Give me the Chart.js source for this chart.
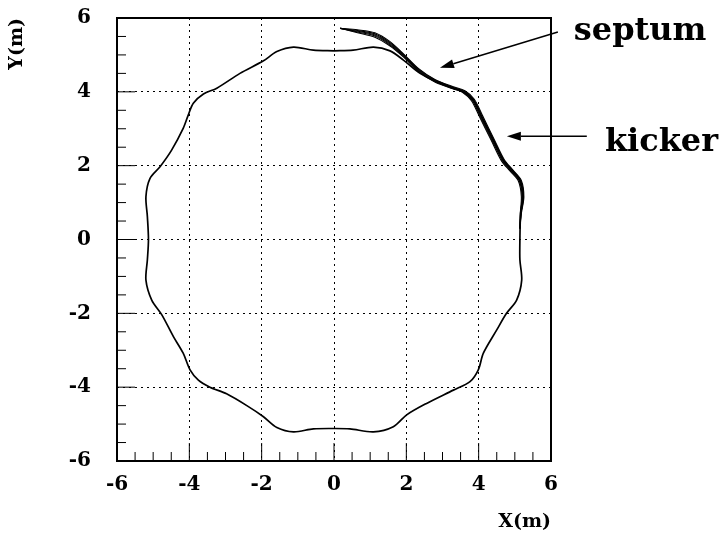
<!DOCTYPE html>
<html>
<head>
<meta charset="utf-8">
<script src="https://cdn.jsdelivr.net/npm/chart.js@4.4.0/dist/chart.umd.min.js"></script>
<style>
body { margin: 0; background: #fff; }
</style>
</head>
<body>
<canvas id="orbit" width="725" height="536"></canvas>
<script>
/* closed orbit (metres), counter-clockwise from the top */
var orbitX = [0.00, -0.57, -1.12, -1.58, -1.95, -2.60, -3.24, -3.61, -3.89, -4.03, -4.17, -4.49, -4.81, -5.09, -5.20, -5.16, -5.13,
  -5.16, -5.20, -5.04, -4.76, -4.44, -4.17, -3.98, -3.75, -3.43, -2.97, -2.41, -1.95, -1.58, -1.12, -0.57, 0.00,
  0.44, 1.09, 1.64, 2.01, 2.56, 3.30, 3.76, 3.99, 4.13, 4.50, 4.77, 5.05, 5.19, 5.14, 5.14,
  5.16, 5.22, 5.14, 4.91, 4.68, 4.40, 4.08, 3.85, 3.57, 3.02, 2.38, 1.92, 1.55, 1.09, 0.53, 0.00];
var orbitY = [5.11, 5.13, 5.21, 5.09, 4.84, 4.50, 4.10, 3.94, 3.69, 3.37, 3.01, 2.42, 1.97, 1.65, 1.16, 0.62, 0.00,
  -0.55, -1.10, -1.64, -2.04, -2.63, -3.08, -3.53, -3.81, -4.00, -4.18, -4.50, -4.80, -5.09, -5.21, -5.13, -5.12,
  -5.13, -5.21, -5.07, -4.75, -4.44, -4.08, -3.85, -3.53, -3.08, -2.45, -2.00, -1.64, -1.10, -0.55, 0.00,
  0.71, 1.16, 1.61, 1.88, 2.15, 2.70, 3.33, 3.78, 4.00, 4.19, 4.50, 4.86, 5.11, 5.21, 5.13, 5.11];

/* injected turns coming out of the septum */
var turn1X = [0.17, 0.65, 1.13, 1.55, 1.90, 2.35, 2.80, 3.30, 3.62, 3.88, 4.11, 4.43, 4.71, 4.95, 5.18, 5.25, 5.18, 5.14];
var turn1Y = [5.72, 5.68, 5.60, 5.36, 5.05, 4.62, 4.33, 4.14, 4.03, 3.80, 3.35, 2.71, 2.16, 1.88, 1.60, 1.16, 0.70, 0.30];
var turn2X = [0.17, 0.65, 1.13, 1.55, 1.90, 2.35, 2.80, 3.30, 3.60, 3.86, 4.09, 4.41, 4.69, 4.93, 5.16, 5.24, 5.17, 5.14];
var turn2Y = [5.72, 5.66, 5.57, 5.33, 5.03, 4.60, 4.32, 4.12, 4.02, 3.79, 3.34, 2.71, 2.16, 1.88, 1.60, 1.16, 0.70, 0.30];
var turn3X = [0.17, 0.65, 1.13, 1.55, 1.90, 2.35, 2.80, 3.30, 3.58, 3.84, 4.07, 4.39, 4.67, 4.91, 5.14, 5.22, 5.17, 5.14];
var turn3Y = [5.72, 5.64, 5.54, 5.30, 5.01, 4.58, 4.30, 4.11, 4.01, 3.78, 3.33, 2.70, 2.15, 1.87, 1.60, 1.16, 0.70, 0.30];
var turn4X = [0.17, 0.65, 1.13, 1.55, 1.90, 2.35, 2.80, 3.30, 3.56, 3.82, 4.05, 4.37, 4.65, 4.89, 5.12, 5.20, 5.16, 5.14];
var turn4Y = [5.72, 5.62, 5.51, 5.27, 4.99, 4.56, 4.28, 4.10, 4.00, 3.77, 3.32, 2.69, 2.14, 1.86, 1.59, 1.16, 0.70, 0.30];
var turn5X = [0.17, 0.65, 1.13, 1.55, 1.90, 2.35, 2.80, 3.30, 3.55, 3.80, 4.03, 4.35, 4.63, 4.87, 5.10, 5.18, 5.15, 5.14];
var turn5Y = [5.72, 5.60, 5.48, 5.24, 4.96, 4.54, 4.26, 4.08, 3.99, 3.76, 3.31, 2.68, 2.13, 1.85, 1.58, 1.16, 0.70, 0.30];

var tickValues = [-6, -4, -2, 0, 2, 4, 6];

/* labels with arrows, in metres */
var septumArrow = { tail: [6.19, 5.62], tip: [2.93, 4.65], label: 'septum', text: [6.63, 5.40] };
var kickerArrow = { tail: [6.99, 2.80], tip: [4.78, 2.80], label: 'kicker', text: [7.49, 2.40] };

function points(xs, ys) {
  return xs.map(function(x, i) { return { x: x, y: ys[i] }; });
}

function lineSet(xs, ys, w) {
  return {
    data: points(xs, ys),
    showLine: true,
    borderColor: '#000',
    borderWidth: w,
    pointRadius: 0,
    tension: 0.3,
    fill: false
  };
}

function drawArrow(ctx, sx, sy, a) {
  var x1 = sx.getPixelForValue(a.tail[0]), y1 = sy.getPixelForValue(a.tail[1]);
  var x2 = sx.getPixelForValue(a.tip[0]), y2 = sy.getPixelForValue(a.tip[1]);
  var ang = Math.atan2(y2 - y1, x2 - x1);
  var hl = 14, hw = 4.5;
  ctx.beginPath();
  ctx.moveTo(x1, y1);
  ctx.lineTo(x2 - hl * Math.cos(ang), y2 - hl * Math.sin(ang));
  ctx.lineWidth = 1.5;
  ctx.stroke();
  ctx.beginPath();
  ctx.moveTo(x2, y2);
  ctx.lineTo(x2 - hl * Math.cos(ang) + hw * Math.sin(ang), y2 - hl * Math.sin(ang) - hw * Math.cos(ang));
  ctx.lineTo(x2 - hl * Math.cos(ang) - hw * Math.sin(ang), y2 - hl * Math.sin(ang) + hw * Math.cos(ang));
  ctx.closePath();
  ctx.fill();
  ctx.font = 'bold 32px "DejaVu Serif"';
  ctx.textAlign = 'left';
  ctx.textBaseline = 'alphabetic';
  ctx.fillText(a.label, sx.getPixelForValue(a.text[0]), sy.getPixelForValue(a.text[1]));
}

/* frame, inside tick marks and the two labels */
var framePlugin = {
  id: 'frame',
  afterDraw: function(chart) {
    var ctx = chart.ctx, a = chart.chartArea, sx = chart.scales.x, sy = chart.scales.y;
    ctx.save();
    ctx.strokeStyle = '#000';
    ctx.fillStyle = '#000';
    ctx.lineWidth = 1;
    for (var v = -6; v <= 6; v += 0.5) {
      var len = (v % 2 === 0) ? 18 : 9;
      var px = sx.getPixelForValue(v);
      ctx.beginPath(); ctx.moveTo(px, a.bottom); ctx.lineTo(px, a.bottom - len); ctx.stroke();
      var py = sy.getPixelForValue(v);
      ctx.beginPath(); ctx.moveTo(a.left, py); ctx.lineTo(a.left + len, py); ctx.stroke();
    }
    ctx.lineWidth = 2;
    ctx.strokeRect(a.left, a.top, a.right - a.left, a.bottom - a.top);
    drawArrow(ctx, sx, sy, septumArrow);
    drawArrow(ctx, sx, sy, kickerArrow);
    ctx.restore();
  }
};

var tickFont = { family: '"DejaVu Serif"', size: 20, weight: 'bold' };
var titleFont = { family: '"DejaVu Serif"', size: 19, weight: 'bold' };

new Chart(document.getElementById('orbit'), {
  type: 'scatter',
  data: {
    datasets: [
      lineSet(orbitX, orbitY, 1.7),
      lineSet(turn1X, turn1Y, 1.1),
      lineSet(turn2X, turn2Y, 1.1),
      lineSet(turn3X, turn3Y, 1.1),
      lineSet(turn4X, turn4Y, 1.1),
      lineSet(turn5X, turn5Y, 1.1)
    ]
  },
  options: {
    responsive: false,
    animation: false,
    layout: { padding: { left: 0, top: 18, right: 174, bottom: 0 } },
    plugins: { legend: { display: false }, tooltip: { enabled: false } },
    scales: {
      x: {
        type: 'linear', min: -6, max: 6,
        afterBuildTicks: function(s) { s.ticks = tickValues.map(function(v) { return { value: v }; }); },
        afterFit: function(s) { s.height = 75; s.paddingLeft = 0; s.paddingRight = 0; },
        ticks: { font: tickFont, color: '#000', padding: 12, autoSkip: false, maxRotation: 0 },
        grid: { color: '#000', lineWidth: 1, drawTicks: false },
        border: { display: false, dash: [2, 4] },
        title: { display: true, text: 'X(m)', align: 'end', font: titleFont, color: '#000', padding: { top: 0, bottom: 3 } }
      },
      y: {
        type: 'linear', min: -6, max: 6,
        afterBuildTicks: function(s) { s.ticks = tickValues.map(function(v) { return { value: v }; }); },
        afterFit: function(s) { s.width = 117; s.paddingTop = 0; s.paddingBottom = 0; },
        ticks: { font: tickFont, color: '#000', padding: 26, autoSkip: false },
        grid: { color: '#000', lineWidth: 1, drawTicks: false },
        border: { display: false, dash: [2, 4] },
        title: { display: true, text: 'Y(m)', align: 'end', font: titleFont, color: '#000', padding: { top: 6, bottom: 0 } }
      }
    }
  },
  plugins: [framePlugin]
});
</script>
</body>
</html>
